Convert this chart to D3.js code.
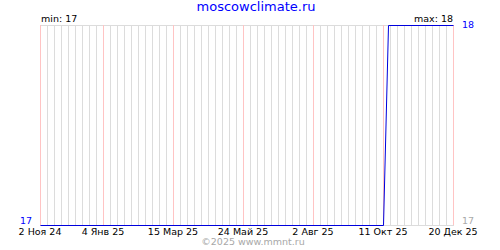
<!DOCTYPE html>
<html>
<head>
<meta charset="utf-8">
<script src="https://cdn.jsdelivr.net/npm/d3@7"></script>
<style>
    body { margin: 0; background: #fff; }
    svg { display: block; }
    text { font-family: "DejaVu Sans", sans-serif; }
</style>
</head>
<body>
<div id="chart"></div>
<script>
// data
const dates = ["2024-11-02", "2025-10-11", "2025-10-16", "2025-12-20"];
const values = [17, 17, 18, 18];
const tickDates = ["2024-11-02", "2025-01-04", "2025-03-15", "2025-05-24", "2025-08-02", "2025-10-11", "2025-12-20"];
const tickLabels = ["2 Ноя 24", "4 Янв 25", "15 Мар 25", "24 Май 25", "2 Авг 25", "11 Окт 25", "20 Дек 25"];
const minValue = 17;
const maxValue = 18;

const width = 500, height = 250;
const plot = {left: 40, right: 453, top: 25, bottom: 225};

const parse = d3.utcParse("%Y-%m-%d");

const svg = d3.select("#chart")
    .append("svg")
    .attr("width", width)
    .attr("height", height);

const x = d3.scaleUtc()
    .domain([parse(tickDates[0]), parse(tickDates[tickDates.length - 1])])
    .range([plot.left, plot.right]);

const y = d3.scaleLinear()
    .domain([minValue, maxValue])
    .range([plot.bottom, plot.top]);

// weekly grid lines
const weeks = d3.utcSaturday.range(x.domain()[0], d3.utcDay.offset(x.domain()[1], 1));
const tickSet = new Set(tickDates.map(d => +parse(d)));

svg.append("g")
    .selectAll("line")
    .data(weeks.filter(d => !tickSet.has(+d)))
    .enter()
    .append("line")
    .attr("x1", d => Math.round(x(d)) + 0.5)
    .attr("x2", d => Math.round(x(d)) + 0.5)
    .attr("y1", plot.top)
    .attr("y2", plot.bottom)
    .attr("stroke", "#dcdcdc");

// frame top/bottom
svg.append("line")
    .attr("x1", plot.left).attr("x2", plot.right + 1)
    .attr("y1", plot.top + 0.5).attr("y2", plot.top + 0.5)
    .attr("stroke", "#dcdcdc");
svg.append("line")
    .attr("x1", plot.left).attr("x2", plot.right + 1)
    .attr("y1", plot.bottom + 0.5).attr("y2", plot.bottom + 0.5)
    .attr("stroke", "#dcdcdc");

// red lines at labelled dates
svg.append("g")
    .selectAll("line")
    .data(tickDates.map(parse))
    .enter()
    .append("line")
    .attr("x1", d => Math.round(x(d)) + 0.5)
    .attr("x2", d => Math.round(x(d)) + 0.5)
    .attr("y1", plot.top)
    .attr("y2", plot.bottom)
    .attr("stroke", "#ffc4c4");

// tick labels
svg.append("g")
    .selectAll("text")
    .data(tickDates)
    .enter()
    .append("text")
    .attr("x", d => x(parse(d)))
    .attr("y", 234.5)
    .attr("text-anchor", "middle")
    .attr("font-size", "9.5px")
    .attr("fill", "#000")
    .text((d, i) => tickLabels[i]);

// data line
const line = d3.line()
    .x(d => x(d[0]) + 0.5)
    .y(d => y(d[1]) + 0.5);

svg.append("path")
    .attr("d", line(dates.map((d, i) => [parse(d), values[i]])))
    .attr("fill", "none")
    .attr("stroke", "#0000dd")
    .attr("stroke-width", 1);

// value labels
svg.append("text")
    .attr("x", 32).attr("y", y(minValue) - 1.5)
    .attr("text-anchor", "end")
    .attr("font-size", "9.5px")
    .attr("fill", "#0000ff")
    .text(minValue);

svg.append("text")
    .attr("x", 462).attr("y", y(maxValue) + 3)
    .attr("font-size", "9.5px")
    .attr("fill", "#0000ff")
    .text(maxValue);

svg.append("text")
    .attr("x", 462).attr("y", y(minValue) - 1.5)
    .attr("font-size", "9.5px")
    .attr("fill", "#aaaaaa")
    .text(minValue);

svg.append("text")
    .attr("x", plot.left + 1).attr("y", 22)
    .attr("font-size", "9.5px")
    .attr("fill", "#000")
    .text("min: " + minValue);

svg.append("text")
    .attr("x", plot.right).attr("y", 22)
    .attr("text-anchor", "end")
    .attr("font-size", "9.5px")
    .attr("fill", "#000")
    .text("max: " + maxValue);

// title and credit
svg.append("text")
    .attr("x", 256).attr("y", 11)
    .attr("text-anchor", "middle")
    .attr("font-size", "13px")
    .attr("fill", "#0000ff")
    .text("moscowclimate.ru");

svg.append("text")
    .attr("x", 253).attr("y", 245)
    .attr("text-anchor", "middle")
    .attr("font-size", "9.5px")
    .attr("fill", "#a8a8a8")
    .text("©2025 www.mmnt.ru");
</script>
</body>
</html>
